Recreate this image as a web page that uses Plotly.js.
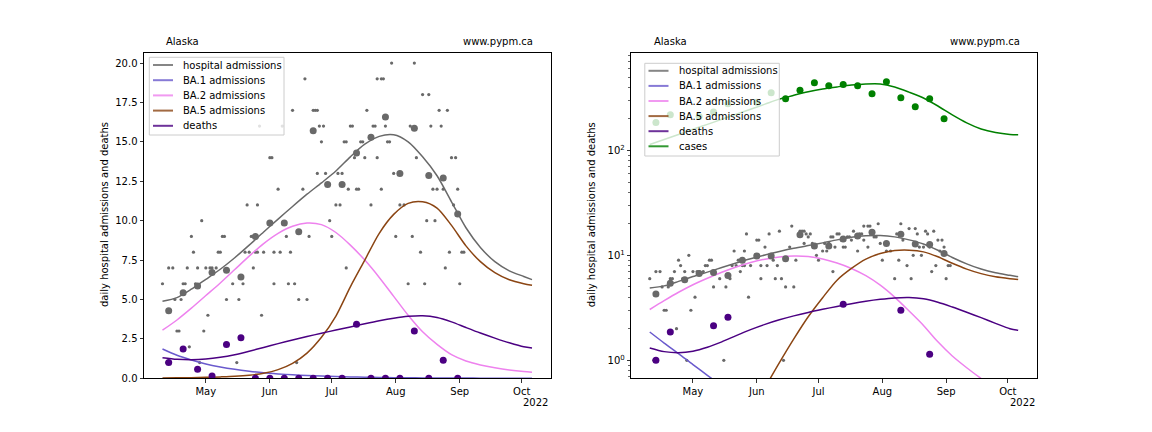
<!DOCTYPE html>
<html><head><meta charset="utf-8">
<script src="https://cdn.plot.ly/plotly-3.0.1.min.js"></script>
<style>html,body{margin:0;padding:0;background:#fff}#chart{width:1152px;height:432px}</style>
</head><body><div id="chart"></div>
<script>
// ---------------- data ----------------
const regionName = 'Alaska';
const siteName = 'www.pypm.ca';
const yTitle = 'daily hospital admissions and deaths';
const yearLabel = '2022';
const monthTicks = ['2022-05-01','2022-06-01','2022-07-01','2022-08-01','2022-09-01','2022-10-01'];
const monthLabels = ['May','Jun','Jul','Aug','Sep','Oct'];
const seriesNames = ['hospital admissions','BA.1 admissions','BA.2 admissions','BA.5 admissions','deaths','cases'];

const curveDates = ['2022-04-10','2022-04-17','2022-04-24','2022-05-01','2022-05-08','2022-05-15','2022-05-22','2022-05-29','2022-06-05','2022-06-12','2022-06-19','2022-06-26','2022-07-03','2022-07-10','2022-07-17','2022-07-24','2022-07-31','2022-08-07','2022-08-14','2022-08-21','2022-08-28','2022-09-04','2022-09-11','2022-09-18','2022-09-25','2022-10-02','2022-10-06'];
const hospFit   = [4.89,5.12,5.65,6.28,6.92,7.65,8.45,9.28,10.1,10.9,11.68,12.4,13.15,14.05,14.85,15.35,15.45,15.0,14.05,12.85,11.2,9.55,8.3,7.4,6.82,6.46,6.26];
const ba1Fit    = [1.86,1.46,1.16,0.91,0.72,0.57,0.45,0.35,0.28,0.22,0.17,0.14,0.11,0.085,0.067,0.053,0.042,0.033,0.026,0.021,0.017,0.013,0.01,0.008,0.006,0.005,0.004];
const ba2Fit    = [3.05,3.7,4.45,5.25,6.05,6.9,7.75,8.55,9.2,9.65,9.85,9.75,9.25,8.45,7.5,6.4,5.2,4.0,2.95,2.15,1.5,1.1,0.85,0.67,0.53,0.43,0.39];
const ba5Fit    = [0.02,0.03,0.04,0.06,0.09,0.13,0.2,0.32,0.55,0.95,1.6,2.6,3.95,5.8,7.5,9.2,10.4,11.1,11.2,10.8,9.7,8.4,7.4,6.7,6.25,6.0,5.9];
const deathsFit = [1.31,1.21,1.18,1.22,1.33,1.5,1.72,1.96,2.2,2.43,2.65,2.86,3.06,3.26,3.46,3.65,3.81,3.93,3.97,3.86,3.58,3.22,2.87,2.55,2.25,2.0,1.93];
const casesFit  = [114,127,142,159,177,198,221,247,276,308,335,362,385,403,420,430,430,402,359,316,265,218,183,160,148,142,141];

const weekDates = ['2022-04-13','2022-04-20','2022-04-27','2022-05-04','2022-05-11','2022-05-18','2022-05-25','2022-06-01','2022-06-08','2022-06-15','2022-06-22','2022-06-29','2022-07-06','2022-07-13','2022-07-20','2022-07-27','2022-08-03','2022-08-10','2022-08-17','2022-08-24','2022-08-31'];
const hospWeekly   = [4.29,5.43,5.86,6.71,6.86,6.43,9.0,9.86,9.86,9.29,15.71,12.29,12.29,14.29,15.29,16.57,13.0,15.86,12.86,12.71,10.43];
const deathsWeekly = [1.0,1.86,0.57,0.14,2.14,2.57,0,0,0,0,0,0,0,3.43,0,0,0,3.0,0,1.14,0];
const casesWeekly  = [184,219,null,211,232,278,null,288,355,311,375,441,413,425,413,347,451,318,261,311,200];

const dailyDates = [
'2022-04-10','2022-04-12','2022-04-13','2022-04-15','2022-04-16','2022-04-17','2022-04-18','2022-04-19','2022-04-20','2022-04-21','2022-04-22','2022-04-23','2022-04-24','2022-04-25','2022-04-26','2022-04-27','2022-04-28','2022-04-29','2022-04-30',
'2022-05-01','2022-05-02','2022-05-03','2022-05-04','2022-05-06','2022-05-07','2022-05-08','2022-05-09','2022-05-10','2022-05-11','2022-05-14','2022-05-16','2022-05-17','2022-05-19','2022-05-20','2022-05-21','2022-05-22','2022-05-23','2022-05-24','2022-05-24','2022-05-25','2022-05-26','2022-05-26','2022-05-27','2022-05-28','2022-05-29',
'2022-06-01','2022-06-02','2022-06-03','2022-06-03','2022-06-05','2022-06-06','2022-06-07','2022-06-09','2022-06-10','2022-06-11','2022-06-12','2022-06-13','2022-06-14','2022-06-15','2022-06-17','2022-06-18','2022-06-19','2022-06-20','2022-06-22','2022-06-23','2022-06-24','2022-06-24','2022-06-25','2022-06-26','2022-06-27','2022-06-28','2022-06-30',
'2022-07-01','2022-07-03','2022-07-04','2022-07-05','2022-07-06','2022-07-07','2022-07-08','2022-07-08','2022-07-09','2022-07-10','2022-07-11','2022-07-12','2022-07-13','2022-07-14','2022-07-15','2022-07-16','2022-07-17','2022-07-18','2022-07-20','2022-07-21','2022-07-22','2022-07-23','2022-07-23','2022-07-25','2022-07-25','2022-07-26','2022-07-27','2022-07-28','2022-07-29','2022-07-30','2022-07-31',
'2022-08-01','2022-08-03','2022-08-05','2022-08-07','2022-08-08','2022-08-09','2022-08-10','2022-08-11','2022-08-13','2022-08-14','2022-08-15','2022-08-16','2022-08-17','2022-08-18','2022-08-19','2022-08-20','2022-08-21','2022-08-22','2022-08-23','2022-08-24','2022-08-25','2022-08-26','2022-08-27','2022-08-28','2022-08-29','2022-08-30','2022-08-31','2022-09-01','2022-09-02','2022-09-03'];
const dailyHosp = [
6,1,7,7,5,3,3,5,6,6,7,2,9,8,6,7,1,10,3,
7,4,7,7,7,8,8,9,9,5,6,1,5,6,8,11,8,9,9,7,8,11,8,16,4,8,
14,14,6,8,12,8,16,9,6,8,17,6,1,5,12,19,5,9,17,17,17,13,16,15,16,13,10,
9,11,13,11,13,15,7,15,12,16,16,14,12,12,15,15,14,17,11,16,16,14,19,19,12,19,16,15,15,20,13,
9,11,11,6,16,9,20,14,8,18,6,10,18,16,12,10,12,17,16,12,7,17,8,14,11,14,12,6,8,8];

// ---------------- drawing ----------------
const W = 1152, H = 432;
const px = x => x / W, py = y => 1 - y / H;
const FONT = {family: 'DejaVu Sans, Verdana, sans-serif', size: 10, color: '#000000'};
const C = {hosp: '#696969', ba1: '#6a5acd', ba2: '#ee82ee', ba5: '#8b4513', deaths: '#4b0082', cases: '#008000'};
const lineColors = [C.hosp, C.ba1, C.ba2, C.ba5, C.deaths, C.cases];

function curve(y, color, xa, ya) {
  return {x: curveDates, y: y, type: 'scatter', mode: 'lines', xaxis: xa, yaxis: ya,
    line: {color: color, width: 1.5, shape: 'spline', smoothing: 0.8}, showlegend: false, hoverinfo: 'skip'};
}
function dots(x, y, color, size, xa, ya) {
  return {x: x, y: y, type: 'scatter', mode: 'markers', xaxis: xa, yaxis: ya,
    marker: {color: color, size: size, line: {width: 0}}, showlegend: false, hoverinfo: 'skip'};
}

const traces = [];
[['x', 'y'], ['x2', 'y2']].forEach(([xa, ya], i) => {
  traces.push(dots(dailyDates, dailyHosp, C.hosp, 3.2, xa, ya));
  traces.push(curve(hospFit, C.hosp, xa, ya));
  traces.push(curve(ba1Fit, C.ba1, xa, ya));
  traces.push(curve(ba2Fit, C.ba2, xa, ya));
  traces.push(curve(ba5Fit, C.ba5, xa, ya));
  traces.push(curve(deathsFit, C.deaths, xa, ya));
  if (i === 1) traces.push(curve(casesFit, C.cases, xa, ya));
  traces.push(dots(weekDates, hospWeekly, C.hosp, 7, xa, ya));
  traces.push(dots(weekDates, deathsWeekly, C.deaths, 7, xa, ya));
  if (i === 1) traces.push(dots(weekDates, casesWeekly, C.cases, 7, xa, ya));
});

const xRange = ['2022-04-01 01:00', '2022-10-14 23:00'];
const xBase = {
  type: 'date', range: xRange, tickmode: 'array', tickvals: monthTicks, ticktext: monthLabels,
  ticks: 'outside', ticklen: 3.5, tickwidth: 0.8, tickcolor: '#000', tickfont: FONT,
  showline: true, mirror: true, linecolor: '#000', linewidth: 1, showgrid: false, zeroline: false, automargin: false
};
const yBase = {
  ticks: 'outside', ticklen: 3.5, tickwidth: 0.8, tickcolor: '#000', tickfont: FONT,
  showline: true, mirror: true, linecolor: '#000', linewidth: 1, showgrid: false, zeroline: false, automargin: false
};
const yDom = [py(378.3), py(52.5)];

const minorVals = [];
[0.1, 1, 10, 100].forEach(d => { for (let k = 2; k <= 9; k++) minorVals.push(k * d); });

const layout = {
  width: W, height: H, margin: {l: 0, r: 0, t: 0, b: 0}, paper_bgcolor: '#fff', plot_bgcolor: '#fff',
  showlegend: false, font: FONT,
  xaxis: Object.assign({}, xBase, {domain: [px(144), px(550.5)], anchor: 'y'}),
  yaxis: Object.assign({}, yBase, {domain: yDom, anchor: 'x', range: [0, 20.67], tickmode: 'linear', tick0: 0, dtick: 2.5, tickformat: '.1f'}),
  xaxis2: Object.assign({}, xBase, {domain: [px(631.3), px(1036.6)], anchor: 'y2'}),
  yaxis2: Object.assign({}, yBase, {domain: yDom, anchor: 'x2', type: 'log', range: [-0.1714, 2.933],
    tickmode: 'array', tickvals: [1, 10, 100], ticktext: ['10<sup>0</sup>', '10<sup>1</sup>', '10<sup>2</sup>'],
    minor: {tickmode: 'array', tickvals: minorVals, ticks: 'outside', ticklen: 2, tickwidth: 0.6, tickcolor: '#000', showgrid: false}}),
  shapes: [], annotations: []
};

function addText(text, x, y, xanchor, extra) {
  layout.annotations.push(Object.assign({text: text, x: px(x), y: py(y), xref: 'paper', yref: 'paper',
    xanchor: xanchor, yanchor: 'middle', showarrow: false, font: FONT}, extra || {}));
}

// panel texts
[144, 631.3].forEach(x0 => {
  addText(regionName, x0 + 20.3, 41.5, 'left');
  addText(siteName, x0 + 316.7, 41.5, 'left');
  addText(yearLabel, x0 + 405.5, 402, 'right');
  addText(yTitle, x0 - 39, 215, 'center', {textangle: -90});
});

// legends
function legend(bx0, by0, bx1, by1, n, rowY0, step, lx0, lx1, tx) {
  layout.shapes.push({type: 'rect', xref: 'paper', yref: 'paper', x0: px(bx0), x1: px(bx1), y0: py(by1), y1: py(by0),
    fillcolor: 'rgba(255,255,255,0.8)', line: {color: '#cccccc', width: 1}, layer: 'above'});
  for (let k = 0; k < n; k++) {
    const yy = rowY0 + k * step;
    layout.shapes.push({type: 'line', xref: 'paper', yref: 'paper', x0: px(lx0), x1: px(lx1), y0: py(yy), y1: py(yy),
      line: {color: lineColors[k], width: 2}, opacity: 0.8, layer: 'above'});
    addText(seriesNames[k], tx, yy, 'left');
  }
}
legend(149.3, 57.3, 284, 135, 5, 65, 15.2, 153, 173, 181);
legend(644.8, 63.3, 779.3, 156, 6, 70.8, 15.1, 648.5, 668.5, 676.5);

Plotly.newPlot('chart', traces, layout, {staticPlot: true, displayModeBar: false});
</script>
</body></html>
